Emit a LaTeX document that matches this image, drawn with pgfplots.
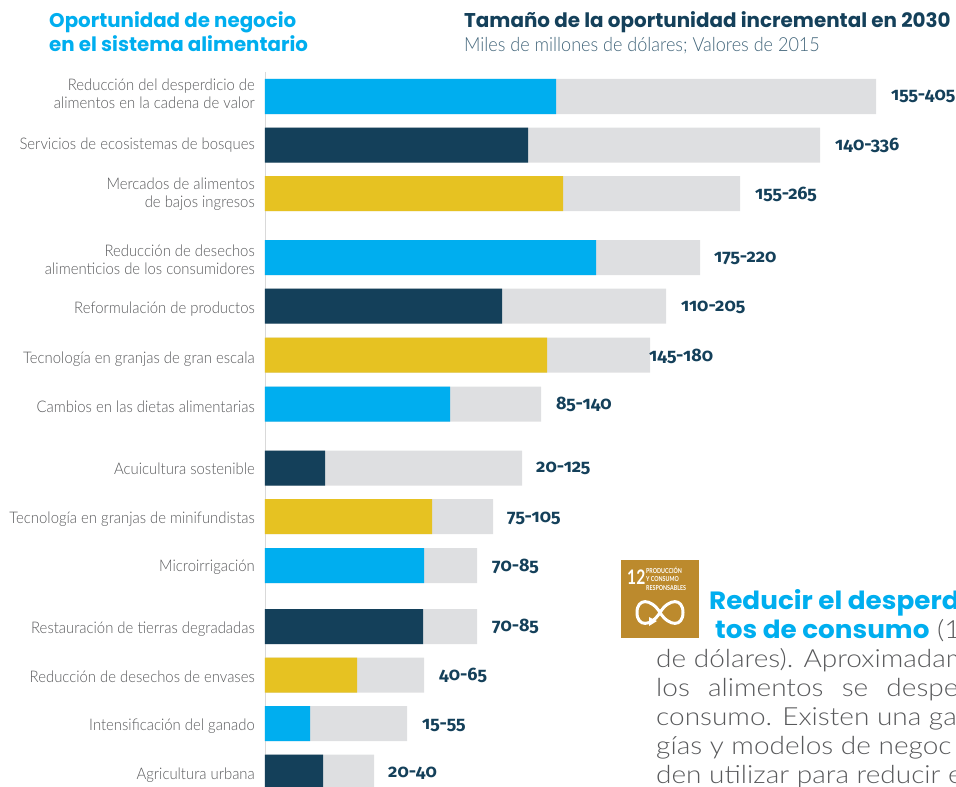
\documentclass[border=0pt]{standalone}
\usepackage{pgfplots}
\usepackage{pgfplotstable}
\usepackage{fontspec}
\pgfplotsset{compat=1.18}
\setmainfont{Lato}
\newfontfamily\lightf[FakeStretch=0.93]{Lato Light}
\newfontfamily\bodyf[FakeStretch=1.12]{Lato Light}
\newfontfamily\headf{Poppins}
\newfontfamily\bigheadf[FakeStretch=1.05]{Poppins}
\newfontfamily\iconf[FakeStretch=0.78]{Lato}
\newfontfamily\numf[Numbers=OldStyle]{Fira Sans}
\definecolor{cblue}{HTML}{00AEEF}
\definecolor{cnavy}{HTML}{14405A}
\definecolor{cyel}{HTML}{E6C222}
\definecolor{cgrey}{HTML}{DEDFE1}
\definecolor{ctext}{HTML}{58595B}
\definecolor{csdg}{HTML}{BC8A2D}
% x = bar length as drawn, y = row position
\pgfplotstableread{
y total labelx labely label
96.5 611 626 96 155-405
145 555 570 145 140-336
193.5 475 490 194 155-265
257.5 435 449 258 175-220
306 401 416 307 110-205
355 385 384 356 145-180
404 276 291 404 85-140
468 257 271 468 20-125
516.5 228 242 518 75-105
565.5 212 227 566 70-85
626.5 212 227 626 70-85
675 159 174 675 40-65
723.5 142 157 725 15-55
772 109 123 773 20-40
}\tot
\pgfplotstableread{
y low
96.5 291
257.5 331
404 185
565.5 159
723.5 45
}\blues
\pgfplotstableread{
y low
145 263
306 237
468 60
626.5 158
772 58
}\navys
\pgfplotstableread{
y low
193.5 298
355 282
516.5 167
675 92
}\yels
\begin{document}
\begin{tikzpicture}[x=1pt,y=1pt]
\path[use as bounding box] (0,0) rectangle (956,787);
\clip (0,0) rectangle (956,787);
\begin{axis}[
  at={(265pt,0pt)}, anchor=south west,
  scale only axis, width=691pt, height=715pt,
  xmin=0, xmax=691, ymin=72, ymax=787, y dir=reverse,
  axis x line=none, axis y line*=left,
  y axis line style={draw=black!15, line width=0.8pt, -},
  xbar, bar shift=0pt, bar width=35pt,
  clip=false,
  ytick={93.5,145,194.5,259.5,309,359,407,469,519.5,567.5,629.5,677,726.5,775},
  yticklabels={{Reducción del desperdicio de\\alimentos en la cadena de valor},
    Servicios de ecosistemas de bosques,
    {Mercados de alimentos\\de bajos ingresos},
    {Reducción de desechos\\alimenticios de los consumidores},
    Reformulación de productos,
    Tecnología en granjas de gran escala,
    Cambios en las dietas alimentarias,
    Acuicultura sostenible,
    Tecnología en granjas de minifundistas,
    Microirrigación,
    Restauración de tierras degradadas,
    Reducción de desechos de envases,
    Intensificación del ganado,
    Agricultura urbana},
  major tick length=0pt,
  yticklabel style={align=right, inner sep=0pt, xshift=-10pt, text=ctext,
    font=\lightf\fontsize{16}{18}\selectfont},
]
\addplot[xbar, fill=cgrey, draw=none] table[x=total, y=y] {\tot};
\addplot[xbar, fill=cblue, draw=none] table[x=low, y=y] {\blues};
\addplot[xbar, fill=cnavy, draw=none] table[x=low, y=y] {\navys};
\addplot[xbar, fill=cyel, draw=none] table[x=low, y=y] {\yels};
\addplot[draw=none, mark=none, forget plot,
  nodes near coords, point meta=explicit symbolic,
  every node near coord/.style={anchor=west, inner sep=0pt, text=cnavy,
    font=\numf\bfseries\fontsize{18}{20}\selectfont}]
  table[x=labelx, y=labely, meta=label] {\tot};

% headings
\node[anchor=base west, inner sep=0pt, text=cblue, font=\headf\bfseries\fontsize{19.8}{24}\selectfont] at (axis cs:-216,28) {Oportunidad de negocio};
\node[anchor=base west, inner sep=0pt, text=cblue, font=\headf\bfseries\fontsize{19.8}{24}\selectfont] at (axis cs:-216,52) {en el sistema alimentario};
\node[anchor=base west, inner sep=0pt, text=cnavy, font=\headf\bfseries\fontsize{19.9}{24}\selectfont] at (axis cs:199,28) {Tamaño de la oportunidad incremental en 2030};
\node[anchor=base west, inner sep=0pt, text=cnavy!80, font=\lightf\fontsize{19.4}{22}\selectfont] at (axis cs:199,52) {Miles de millones de dólares; Valores de 2015};

% SDG badge
\fill[csdg] (axis cs:356,560) rectangle (axis cs:434,638);
\node[anchor=base west, inner sep=0pt, text=white, font=\iconf\bfseries\fontsize{20}{20}\selectfont] at (axis cs:362,584) {12};
\node[anchor=base west, inner sep=0pt, text=white, font=\iconf\bfseries\fontsize{6.8}{7}\selectfont] at (axis cs:381,573) {PRODUCCIÓN};
\node[anchor=base west, inner sep=0pt, text=white, font=\iconf\bfseries\fontsize{6.8}{7}\selectfont] at (axis cs:381,581.5) {Y CONSUMO};
\node[anchor=base west, inner sep=0pt, text=white, font=\iconf\bfseries\fontsize{6.8}{7}\selectfont] at (axis cs:381,590) {RESPONSABLES};
\draw[white, line width=3pt] (axis cs:395,612.5) .. controls (axis cs:386,598) and (axis cs:372,598) .. (axis cs:372,612.5)
  .. controls (axis cs:372,627) and (axis cs:386,627) .. (axis cs:395,612.5)
  .. controls (axis cs:404,598) and (axis cs:418,598) .. (axis cs:418,612.5)
  .. controls (axis cs:418,627) and (axis cs:404,627) .. (axis cs:395,612.5);
\fill[white] (axis cs:384,617) -- (axis cs:392,621) -- (axis cs:384,626) -- cycle;

% body text, running past the page edge
\node[anchor=base west, inner sep=0pt, text=cblue, font=\bigheadf\bfseries\fontsize{25}{28}\selectfont] at (axis cs:444,609) {Reducir\ el\ desperd};
\node[anchor=base west, inner sep=0pt, text=ctext, font=\bodyf\fontsize{25}{28}\selectfont] at (axis cs:450,638) {\textcolor{cblue}{\bigheadf\bfseries tos\ de\ consumo} (1};
\foreach \yy/\tt in {667/de dólares). Aproximadam, 696/los\ \ \hspace{3pt}alimentos\ \ \hspace{3pt}se\ \ \hspace{3pt}desperd, 725/consumo. Existen una ga, 754/gías y modelos de negoc, 783/den utilizar para reducir e}{
  \edef\tmp{\noexpand\node[anchor=base west, inner sep=0pt, text=ctext, font=\noexpand\bodyf\noexpand\fontsize{25}{28}\noexpand\selectfont] at (axis cs:391,\yy) {\unexpanded\expandafter{\tt}};}
  \tmp
}
\end{axis}
\end{tikzpicture}
\end{document}
